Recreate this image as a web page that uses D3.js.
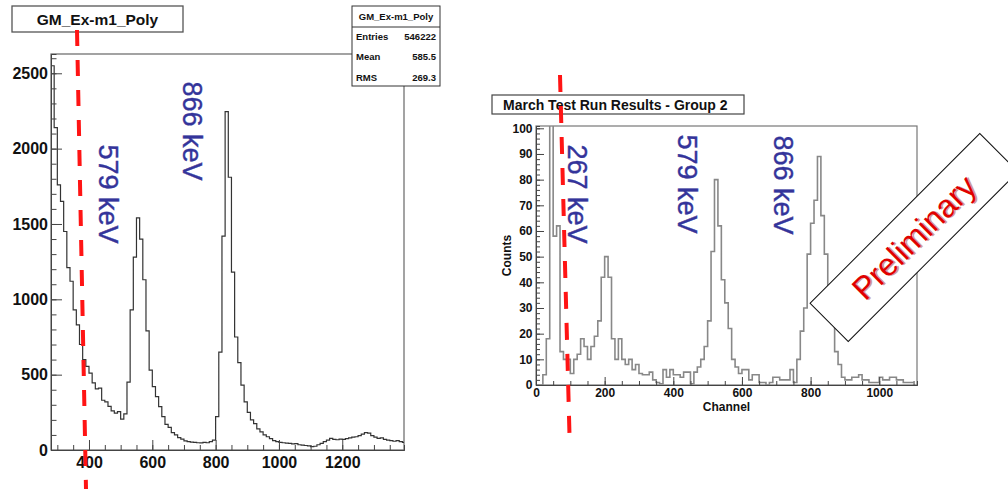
<!DOCTYPE html>
<html>
<head>
<meta charset="utf-8">
<script src="https://cdn.jsdelivr.net/npm/d3@7"></script>
<style>
  body { margin: 0; background: #fff; }
  text { font-family: "Liberation Sans", Arial, sans-serif; }
</style>
</head>
<body>
<script>
// data: left histogram (GM_Ex-m1_Poly), 10 channel bins from 280
var leftBinStart = 280;
var leftBinWidth = 10;
var leftCounts = [
  2550, 2140, 1760, 1650, 1450, 1210, 1120, 930, 830, 700,
  600, 555, 510, 445, 405, 410, 330, 320, 290, 260,
  245, 255, 205, 240, 450, 930, 1280, 1540, 1400, 1130,
  790, 530, 420, 354, 288, 221, 170, 150, 115, 100,
  82, 72, 60, 55, 52, 50, 48, 47, 50, 48,
  55, 66, 221, 650, 1420, 2245, 1810, 1180, 750, 580,
  430, 320, 250, 200, 175, 140, 120, 100, 88, 75,
  62, 55, 50, 48, 45, 44, 40, 42, 35, 33,
  30, 28, 22, 25, 35, 44, 55, 65, 77, 70,
  68, 72, 71, 75, 80, 85, 88, 95, 105, 115,
  112, 95, 85, 77, 80, 70, 65, 62, 58, 62,
  55, 50
];
var leftXTicks = [400, 600, 800, 1000, 1200];
var leftYTicks = [0, 500, 1000, 1500, 2000, 2500];
var leftPeakLabels = ["579 keV", "866 keV"];
var statsNames = ["Entries", "Mean", "RMS"];
var statsValues = ["546222", "585.5", "269.3"];

// data: right histogram (March Test Run Results - Group 2), 10 channel bins from 0
var rightBinStart = 0;
var rightBinWidth = 10;
var rightCounts = [
  0, 0, 4, 18, 130, 58, 62, 13, 10, 10,
  4.5, 10, 12, 18, 15, 10, 15, 19, 25, 42,
  50, 42, 18, 10, 18, 10, 8, 10, 6, 8,
  4.5, 4, 4, 5, 2, 1, 0.5, 6, 3, 6,
  4, 4, 3, 5, 5, 0.5, 5, 7, 10, 15,
  25, 52, 80, 62, 41, 32, 22, 10, 7, 4.5,
  6, 6, 2, 4, 4, 1, 1, 0, 1, 3,
  3, 2, 2, 2, 6, 1, 10, 21, 30, 51,
  63, 72, 89, 66, 51, 38, 24, 13, 8, 3,
  2, 2, 3, 3, 4, 2, 2, 1, 1, 1,
  3, 2, 2, 3, 3, 2, 2, 1, 1, 1
];
var rightXTicks = [0, 200, 400, 600, 800, 1000];
var rightYTicks = [0, 10, 20, 30, 40, 50, 60, 70, 80, 90, 100];
var rightPeakLabels = ["267 keV", "579 keV", "866 keV"];

var svg = d3.select("body").append("svg")
  .attr("width", 1008)
  .attr("height", 489);

var peakBlue = "#34349a";
var axisColor = "#444";
var plain = d3.format("d");

function stepPoints(start, width, counts) {
  var pts = counts.map(function(c, i) { return [start + i * width, c]; });
  pts.push([start + counts.length * width, counts[counts.length - 1]]);
  return pts;
}

function styleAxis(g, size) {
  g.selectAll("path").attr("stroke", axisColor);
  g.selectAll("line").attr("stroke", axisColor);
  g.selectAll("text")
    .attr("fill", "#111")
    .style("font-size", size + "px")
    .style("font-weight", "bold")
    .style("font-family", "'Liberation Sans', Arial, sans-serif");
}

// ---------- left plot ----------
var xLeft = d3.scaleLinear().domain([280, 1395]).range([51, 404]);
var yLeft = d3.scaleLinear().domain([0, 2628]).range([450, 54]);

svg.append("clipPath").attr("id", "clipLeft")
  .append("rect").attr("x", 51).attr("y", 54).attr("width", 353).attr("height", 396);

// frame
svg.append("rect")
  .attr("x", 51).attr("y", 54).attr("width", 353).attr("height", 396)
  .attr("fill", "none").attr("stroke", "#666").attr("stroke-width", 1.2);

svg.append("path")
  .datum(stepPoints(leftBinStart, leftBinWidth, leftCounts))
  .attr("clip-path", "url(#clipLeft)")
  .attr("fill", "none")
  .attr("stroke", "#333")
  .attr("stroke-width", 1.2)
  .attr("d", d3.line()
    .x(function(d) { return xLeft(d[0]); })
    .y(function(d) { return yLeft(d[1]); })
    .curve(d3.curveStepAfter));

// axes (ticks point inward)
svg.append("g").attr("transform", "translate(0,450)")
  .call(d3.axisBottom(xLeft).tickValues(d3.range(300, 1400, 50)).tickSize(-5).tickFormat(""))
  .call(styleAxis, 16);
svg.append("g").attr("transform", "translate(0,450)")
  .call(d3.axisBottom(xLeft).tickValues(leftXTicks).tickFormat(plain)
    .tickSizeInner(-10).tickSizeOuter(0).tickPadding(7))
  .call(styleAxis, 16);
svg.append("g").attr("transform", "translate(51,0)")
  .call(d3.axisLeft(yLeft).tickValues(d3.range(0, 2700, 100)).tickSize(-5.5).tickFormat(""))
  .call(styleAxis, 16);
svg.append("g").attr("transform", "translate(51,0)")
  .call(d3.axisLeft(yLeft).tickValues(leftYTicks).tickFormat(plain)
    .tickSizeInner(-11).tickSizeOuter(0).tickPadding(3))
  .call(styleAxis, 16);

// peak labels
var leftLabelPos = [[108, 194], [192, 131]];
svg.selectAll(".leftPeak")
  .data(leftPeakLabels)
  .enter()
  .append("text")
  .attr("class", "leftPeak")
  .attr("transform", function(d, i) {
    return "translate(" + leftLabelPos[i][0] + "," + leftLabelPos[i][1] + ") rotate(90)";
  })
  .attr("text-anchor", "middle")
  .attr("dominant-baseline", "central")
  .attr("fill", peakBlue)
  .attr("stroke", peakBlue)
  .attr("stroke-width", 0.4)
  .style("font-size", "27px")
  .text(function(d) { return d; });

// title box
svg.append("rect")
  .attr("x", 12).attr("y", 6).attr("width", 171).attr("height", 26)
  .attr("fill", "#fff").attr("stroke", "#555").attr("stroke-width", 1.3);
svg.append("text")
  .attr("x", 97.5).attr("y", 19.5)
  .attr("text-anchor", "middle").attr("dominant-baseline", "central")
  .style("font-size", "15.5px").style("font-weight", "bold")
  .attr("fill", "#111")
  .text("GM_Ex-m1_Poly");

// stats box
var stats = svg.append("g");
stats.append("rect")
  .attr("x", 352).attr("y", 6).attr("width", 88).attr("height", 80)
  .attr("fill", "#fff").attr("stroke", "#333").attr("stroke-width", 1);
stats.append("line")
  .attr("x1", 352).attr("x2", 440).attr("y1", 27).attr("y2", 27)
  .attr("stroke", "#333");
stats.append("text")
  .attr("x", 396).attr("y", 16.5)
  .attr("text-anchor", "middle").attr("dominant-baseline", "central")
  .style("font-size", "9.5px").style("font-weight", "bold")
  .attr("fill", "#111")
  .text("GM_Ex-m1_Poly");
stats.selectAll(".sname")
  .data(statsNames)
  .enter()
  .append("text")
  .attr("x", 356)
  .attr("y", function(d, i) { return 36.5 + i * 20.3; })
  .attr("dominant-baseline", "central")
  .style("font-size", "9.5px").style("font-weight", "bold")
  .attr("fill", "#111")
  .text(function(d) { return d; });
stats.selectAll(".svalue")
  .data(statsValues)
  .enter()
  .append("text")
  .attr("x", 436)
  .attr("y", function(d, i) { return 36.5 + i * 20.3; })
  .attr("text-anchor", "end")
  .attr("dominant-baseline", "central")
  .style("font-size", "9.5px").style("font-weight", "bold")
  .attr("fill", "#111")
  .text(function(d) { return d; });

// red dashed line
svg.append("line")
  .attr("x1", 77).attr("y1", 30).attr("x2", 86).attr("y2", 489)
  .attr("stroke", "#ff1414").attr("stroke-width", 4)
  .attr("stroke-dasharray", "16,14");

// ---------- right plot ----------
var xRight = d3.scaleLinear().domain([0, 1110]).range([536, 917]);
var yRight = d3.scaleLinear().domain([0, 100.9]).range([385, 126]);

svg.append("clipPath").attr("id", "clipRight")
  .append("rect").attr("x", 536).attr("y", 126).attr("width", 381).attr("height", 259);

svg.append("rect")
  .attr("x", 536).attr("y", 126).attr("width", 381).attr("height", 259)
  .attr("fill", "none").attr("stroke", "#777").attr("stroke-width", 1.2);

svg.append("path")
  .datum(stepPoints(rightBinStart, rightBinWidth, rightCounts))
  .attr("clip-path", "url(#clipRight)")
  .attr("fill", "none")
  .attr("stroke", "#888")
  .attr("stroke-width", 1.6)
  .attr("d", d3.line()
    .x(function(d) { return xRight(d[0]); })
    .y(function(d) { return yRight(d[1]); })
    .curve(d3.curveStepAfter));

svg.append("g").attr("transform", "translate(0,385)")
  .call(d3.axisBottom(xRight).tickValues(d3.range(0, 1110, 50)).tickSize(-4).tickFormat(""))
  .call(styleAxis, 12);
svg.append("g").attr("transform", "translate(0,385)")
  .call(d3.axisBottom(xRight).tickValues(rightXTicks).tickFormat(plain)
    .tickSizeInner(-8).tickSizeOuter(0).tickPadding(3.5))
  .call(styleAxis, 12);
svg.append("g").attr("transform", "translate(536,0)")
  .call(d3.axisLeft(yRight).tickValues(d3.range(0, 101, 2)).tickSize(-4).tickFormat(""))
  .call(styleAxis, 12);
svg.append("g").attr("transform", "translate(536,0)")
  .call(d3.axisLeft(yRight).tickValues(rightYTicks).tickFormat(plain)
    .tickSizeInner(-8).tickSizeOuter(0).tickPadding(3.5))
  .call(styleAxis, 12);

svg.append("text")
  .attr("x", 726.5).attr("y", 407)
  .attr("text-anchor", "middle").attr("dominant-baseline", "central")
  .style("font-size", "12px").style("font-weight", "bold")
  .attr("fill", "#111")
  .text("Channel");
svg.append("text")
  .attr("transform", "translate(507,255.5) rotate(-90)")
  .attr("text-anchor", "middle").attr("dominant-baseline", "central")
  .style("font-size", "12px").style("font-weight", "bold")
  .attr("fill", "#111")
  .text("Counts");

var rightLabelPos = [[577, 194], [687, 184], [783, 185]];
svg.selectAll(".rightPeak")
  .data(rightPeakLabels)
  .enter()
  .append("text")
  .attr("class", "rightPeak")
  .attr("transform", function(d, i) {
    return "translate(" + rightLabelPos[i][0] + "," + rightLabelPos[i][1] + ") rotate(90)";
  })
  .attr("text-anchor", "middle")
  .attr("dominant-baseline", "central")
  .attr("fill", peakBlue)
  .attr("stroke", peakBlue)
  .attr("stroke-width", 0.4)
  .style("font-size", "27px")
  .text(function(d) { return d; });

// title box
svg.append("rect")
  .attr("x", 492).attr("y", 95).attr("width", 252).attr("height", 19)
  .attr("fill", "#fff").attr("stroke", "#444").attr("stroke-width", 1.2);
svg.append("text")
  .attr("x", 503).attr("y", 104.5)
  .attr("dominant-baseline", "central")
  .style("font-size", "14px").style("font-weight", "bold")
  .attr("fill", "#111")
  .text("March Test Run Results - Group 2");

// red dashed line
svg.append("line")
  .attr("x1", 560).attr("y1", 75).attr("x2", 569.5).attr("y2", 435)
  .attr("stroke", "#ff1414").attr("stroke-width", 4)
  .attr("stroke-dasharray", "17,14");

// "Preliminary" stamp
var stamp = svg.append("g").attr("transform", "translate(914,237.5) rotate(-45)");
stamp.append("rect")
  .attr("x", -120).attr("y", -27).attr("width", 240).attr("height", 54)
  .attr("fill", "#fff").attr("stroke", "#111").attr("stroke-width", 1);
stamp.append("text")
  .attr("x", 1.2).attr("y", 1.5)
  .attr("text-anchor", "middle").attr("dominant-baseline", "central")
  .attr("fill", "#c9a0a0")
  .style("font-size", "32px")
  .text("Preliminary");
stamp.append("text")
  .attr("text-anchor", "middle").attr("dominant-baseline", "central")
  .attr("fill", "#e00000")
  .style("font-size", "32px")
  .text("Preliminary");
</script>
</body>
</html>
